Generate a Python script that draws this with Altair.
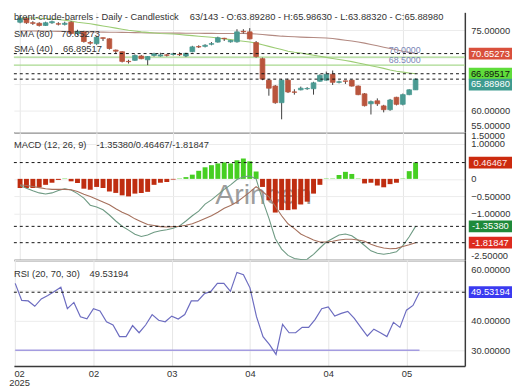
import altair as alt
import pandas as pd

FONT = "Liberation Sans"
W = 459
H_PRICE, H_MACD, H_RSI = 122, 130, 108
FS = 9.5

idx = list(range(63))
o = [76.5, 77.2, 76.4, 76.3, 75.9, 76.4, 76.2, 76.1, 76.5, 74.4,
     74.7, 72.7, 72.5, 73.6, 73.4, 71.3, 71.0, 69.2, 69.4, 70.2,
     69.5, 70.3, 70.2, 70.4, 70.5, 70.5, 70.2, 71.0, 71.95, 72.0,
     72.4, 72.8, 73.5, 72.85, 72.85, 74.8, 74.7, 72.7, 69.7, 65.7,
     64.6, 61.5, 65.7, 63.5, 63.9, 64.1, 64.1, 65.5, 65.7, 66.8,
     65.3, 65.55, 65.7, 64.6, 63.15, 61.3, 61.85, 60.9, 60.2, 62.5,
     61.2, 63.0, 63.8928]
h = [77.6, 77.5, 76.7, 76.5, 76.6, 76.8, 76.5, 76.6, 76.7, 75.1,
     74.9, 73.0, 73.9, 73.65, 73.5, 71.4, 71.1, 69.5, 70.5, 70.4,
     70.2, 70.8, 70.8, 70.6, 70.8, 70.9, 70.8, 72.1, 72.2, 72.4,
     72.8, 73.8, 73.6, 73.2, 75.2, 75.2, 75.4, 73.0, 69.9, 65.9,
     64.8, 65.9, 66.0, 64.0, 64.5, 64.4, 65.4, 66.8, 67.3, 67.5,
     65.6, 65.6, 65.8, 64.7, 63.3, 61.9, 62.3, 61.1, 62.2, 62.6,
     63.2, 64.0, 65.9863]
l = [76.3, 76.2, 76.0, 75.7, 75.8, 76.2, 75.9, 75.9, 74.2, 74.1,
     72.7, 72.3, 72.3, 73.0, 71.4, 70.7, 69.0, 68.8, 69.3, 69.6,
     68.5, 70.1, 70.1, 70.1, 70.3, 70.2, 70.0, 70.9, 71.7, 71.8,
     72.2, 72.7, 73.0, 72.7, 72.7, 74.4, 73.3, 69.9, 65.7, 62.8,
     61.3, 58.4, 63.3, 63.0, 63.8, 63.9, 63.0, 65.4, 65.6, 64.8,
     65.1, 65.0, 64.5, 62.9, 60.8, 59.3, 60.9, 59.7, 60.0, 61.0,
     61.0, 62.9, 63.8832]
c = [77.2, 76.4, 76.3, 75.9, 76.4, 76.6, 76.15, 76.3, 74.4, 74.8,
     72.9, 72.6, 73.7, 73.5, 71.6, 71.1, 69.2, 69.15, 70.3, 69.7,
     70.1, 70.6, 70.4, 70.35, 70.6, 70.45, 70.7, 71.9, 71.9, 72.2,
     72.5, 73.6, 73.45, 73.1, 74.7, 74.7, 73.4, 70.1, 65.9, 64.2,
     61.5, 65.7, 63.5, 63.45, 64.2, 64.15, 65.2, 66.6, 66.8, 65.3,
     65.4, 65.5, 64.6, 63.0, 60.95, 61.7, 61.3, 60.2, 62.0, 61.2,
     63.0, 63.9, 65.8898]
sma40 = [77.3, 77.3, 77.3, 77.25, 77.2, 77.1, 77.0, 76.85, 76.7, 76.5,
         76.35, 76.2, 76.0, 75.8, 75.6, 75.4, 75.2, 75.0, 74.85, 74.7,
         74.6, 74.5, 74.4, 74.35, 74.3, 74.2, 74.1, 74.0, 73.9, 73.8,
         73.7, 73.55, 73.4, 73.25, 73.1, 72.95, 72.8, 72.6, 72.3, 72.0,
         71.7, 71.4, 71.1, 70.9, 70.75, 70.55, 70.35, 70.15, 69.95, 69.75,
         69.55, 69.35, 69.15, 68.9, 68.65, 68.4, 68.15, 67.9, 67.6, 67.35,
         67.2, 67.05, 66.89517]
sma80 = [74.85, 74.85, 74.85, 74.84, 74.83, 74.82, 74.8, 74.78, 74.76, 74.74,
         74.72, 74.7, 74.68, 74.66, 74.64, 74.62, 74.6, 74.58, 74.56, 74.54,
         74.52, 74.5, 74.49, 74.48, 74.47, 74.46, 74.45, 74.44, 74.43, 74.42,
         74.42, 74.41, 74.41, 74.4, 74.4, 74.4, 74.38, 74.3, 74.2, 74.1,
         74.0, 73.9, 73.85, 73.78, 73.72, 73.68, 73.64, 73.6, 73.55, 73.45,
         73.3, 73.15, 73.0, 72.8, 72.6, 72.35, 72.1, 71.85, 71.6, 71.35,
         71.1, 70.88, 70.65273]
macd = [-0.19, -0.27, -0.34, -0.40, -0.43, -0.40, -0.33, -0.28, -0.32, -0.42,
        -0.55, -0.75, -0.80, -0.88, -1.03, -1.20, -1.35, -1.46, -1.58, -1.64,
        -1.60, -1.52, -1.48, -1.45, -1.41, -1.34, -1.20, -1.05, -0.92, -0.72,
        -0.60, -0.45, -0.30, -0.17, -0.02, 0.06, 0.08, 0.00, -0.60, -1.12,
        -1.70, -2.00, -2.18, -2.27, -2.30, -2.29, -2.15, -1.97, -1.80, -1.70,
        -1.60, -1.57, -1.62, -1.75, -1.90, -2.05, -2.12, -2.15, -2.12, -2.08,
        -1.90, -1.65, -1.35380]
signal = [-0.17, -0.19, -0.22, -0.25, -0.28, -0.30, -0.30, -0.30, -0.31, -0.36,
          -0.44, -0.50, -0.58, -0.66, -0.74, -0.85, -0.95, -1.03, -1.14, -1.22,
          -1.30, -1.33, -1.36, -1.37, -1.36, -1.35, -1.32, -1.28, -1.21, -1.13,
          -1.05, -0.95, -0.84, -0.76, -0.66, -0.52, -0.38, -0.22, -0.36, -0.51,
          -0.78, -1.05, -1.28, -1.42, -1.57, -1.66, -1.74, -1.80, -1.80, -1.78,
          -1.74, -1.72, -1.72, -1.74, -1.78, -1.86, -1.93, -1.97, -1.99, -1.98,
          -1.93, -1.88, -1.81847]
hist = [-0.26, -0.26, -0.26, -0.24, -0.17, -0.11, -0.03, 0.01, -0.07, -0.12,
        -0.28, -0.31, -0.23, -0.26, -0.36, -0.40, -0.47, -0.50, -0.42, -0.40,
        -0.37, -0.17, -0.11, -0.09, -0.02, 0.01, 0.05, 0.12, 0.23, 0.33,
        0.39, 0.44, 0.47, 0.44, 0.53, 0.58, 0.50, 0.21, -0.23, -0.61,
        -0.96, -0.89, -0.89, -0.87, -0.73, -0.65, -0.42, -0.17, 0.01, 0.01,
        0.11, 0.20, 0.14, 0.01, -0.13, -0.11, -0.19, -0.24, -0.15, -0.11,
        0.01, 0.22, 0.46467]
rsi = [52.5, 46.8, 46.6, 44.8, 47.3, 48.4, 49.8, 51.2, 44.0, 46.1,
       41.3, 40.6, 44.0, 43.2, 39.6, 38.5, 34.6, 34.6, 38.3, 35.9,
       38.5, 42.0, 40.1, 39.6, 41.5, 40.5, 42.0, 46.6, 46.6, 49.0,
       49.8, 52.5, 52.5, 49.8, 56.2, 55.4, 51.0, 41.3, 34.6, 31.9,
       28.6, 38.7, 35.9, 35.9, 37.7, 37.7, 40.4, 44.0, 44.6, 41.5,
       42.4, 43.1, 40.7, 37.7, 34.8, 37.1, 35.9, 34.6, 39.4, 37.7,
       43.5, 45.1, 49.53194]

levels = [70.0, 68.5]
level_labels = ["70.0000", "68.5000"]
rsi_levels = [30]

tick_idx = [0, 12, 24, 36, 48, 60]
tick_lab = ["02", "02", "03", "04", "04", "05"]
year_lab = "2025"

title_left = "brent-crude-barrels - Daily - Candlestick"
title_right = "63/143 - O:63.89280 - H:65.98630 - L:63.88320 - C:65.88980"

UP, DOWN, WICK = "#4a9a92", "#b9553d", "#3c3c3c"
SMA80_C, SMA40_C, LEVEL_C = "#b38a82", "#9ccc74", "#a9d98f"
MACD_C, SIG_C, HPOS, HNEG = "#6e9a83", "#a5705c", "#46cf22", "#bf2d10"
RSI_C, RSI30_C = "#6c6cc0", "#a49ce0"
AXC = "#3a3a3a"

df = pd.DataFrame({"i": idx, "o": o, "h": h, "l": l, "c": c,
                   "sma40": sma40, "sma80": sma80, "macd": macd,
                   "sig": signal, "hist": hist, "rsi": rsi})

x_scale = alt.Scale(domain=[-0.2, 68.95], nice=False, zero=False)

x_axis_hidden = alt.Axis(values=tick_idx, labels=False, ticks=False, domain=True,
                         domainColor=AXC, domainWidth=1.5, grid=True,
                         gridColor="#e6e6e6", title=None)

parts = []
for t, lab in zip(tick_idx, tick_lab):
    s = f"['{lab}','{year_lab}']" if t == tick_idx[0] else f"'{lab}'"
    parts.append(f"datum.value == {t} ? {s}")
x_label_expr = " : ".join(parts) + " : ''"

x_axis_bottom = alt.Axis(values=tick_idx, labelExpr=x_label_expr, ticks=False,
                         domain=True, domainColor=AXC, domainWidth=1.5,
                         grid=True, gridColor="#e6e6e6", title=None,
                         labelFlush=False, labelOverlap=False, labelPadding=3,
                         labelFontSize=9.5, labelLineHeight=9, labelBaseline="top",
                         labelOffset={"condition": {"test": f"datum.value == {tick_idx[0]}", "value": 4}, "value": 0})


def yaxis(values, expr, offset_cond):
    return alt.Axis(orient="right", values=values, labelExpr=expr, ticks=False,
                    labelPadding=6, domain=True, domainColor=AXC, domainWidth=1.5,
                    grid=True, gridColor="#ececec", title=None, labelOverlap=False,
                    labelOffset={"condition": offset_cond, "value": 0})


def label(txt, px, py, size=FS, color="#333", baseline="middle", **kw):
    return alt.Chart(pd.DataFrame({"t": [txt]})).mark_text(
        align="left", baseline=baseline, fontSize=size, font=FONT, color=color, **kw
    ).encode(x=alt.value(px), y=alt.value(py), text="t:N")


def panel_enc(xax, ysc, yax):
    def X(field):
        return alt.X(field, scale=x_scale, axis=xax)

    def Y(field):
        return alt.Y(field, scale=ysc, axis=yax)
    return X, Y


def boxes(vals, bgs, fgs, offs, Y):
    out = []
    for v, bg, fg, off in zip(vals, bgs, fgs, offs):
        bdf = pd.DataFrame({"v": [v], "lab": [f"{v:.5f}"]})
        out.append(alt.Chart(bdf).mark_tick(orient="horizontal", thickness=12, size=44,
                                            opacity=1, color=bg, yOffset=off).encode(
            x=alt.value(485), y=Y("v:Q")))
        out.append(alt.Chart(bdf).mark_text(fontSize=FS, font=FONT, align="center",
                                            baseline="middle", color=fg, yOffset=off).encode(
            x=alt.value(485), y=Y("v:Q"), text="lab:N"))
    return out


def dashed(vals, Y):
    return alt.Chart(pd.DataFrame({"v": vals})).mark_rule(
        color="#111", strokeWidth=1, strokeDash=[3, 3]).encode(y=Y("v:Q"))


base = alt.Chart(df)

# ---------------- price panel ----------------
ysc_p = alt.Scale(domain=[56.0, 78.34], nice=False, zero=False)
yax_p = yaxis([56.0, 60, 65, 70, 75],
              "datum.value < 57 ? '55.00000' : (datum.value == 65 || datum.value == 70) ? '' : format(datum.value, '.5f')",
              {"test": "datum.value < 57", "value": -6.5})
Xp, Yp = panel_enc(x_axis_hidden, ysc_p, yax_p)

lvl_rules = alt.Chart(pd.DataFrame({"lvl": levels})).mark_rule(
    color=LEVEL_C, strokeWidth=1.3).encode(y=Yp("lvl:Q"))
lvl_texts = []
for lv, lb, ddy in zip(levels, level_labels, [-2, 0]):
    ldf = pd.DataFrame({"lvl": [lv], "lab": [lb], "xl": [idx[-1] + 0.8]})
    lvl_texts.append(alt.Chart(ldf).mark_text(align="right", baseline="bottom", dy=ddy, fontSize=9,
                                              font=FONT, color="#7a86b6").encode(
        x=Xp("xl:Q"), y=Yp("lvl:Q"), text="lab:N"))
sma80_line = base.mark_line(color=SMA80_C, strokeWidth=1.1).encode(x=Xp("i:Q"), y=Yp("sma80:Q"))
sma40_line = base.mark_line(color=SMA40_C, strokeWidth=1.1).encode(x=Xp("i:Q"), y=Yp("sma40:Q"))
wicks = base.mark_rule(color=WICK, strokeWidth=1).encode(x=Xp("i:Q"), y=Yp("l:Q"), y2="h:Q")
candle_color = alt.condition("datum.c >= datum.o", alt.value(UP), alt.value(DOWN))
bodies = base.mark_bar(size=4.8, strokeWidth=0.8).encode(
    x=Xp("i:Q"), y=Yp("o:Q"), y2="c:Q", color=candle_color, stroke=candle_color)

price = alt.layer(
    lvl_rules, sma80_line, sma40_line, wicks, bodies,
    dashed([sma80[-1], sma40[-1], c[-1]], Yp), *lvl_texts,
    label(title_left, 0, 4.5), label(title_right, 179, 4.5),
    label("SMA (80)", 0, 22), label(f"{sma80[-1]:.5f}", 48, 22),
    label("SMA (40)", 0, 37), label(f"{sma40[-1]:.5f}", 50, 37),
    *boxes([sma80[-1], sma40[-1], c[-1]], ["#d9503c", "#5fdc3a", "#3e9b8f"],
           ["#ffffff", "#111111", "#ffffff"], [0, 0, 5.5], Yp),
).properties(width=W, height=H_PRICE)

# ---------------- MACD panel ----------------
ysc_m = alt.Scale(domain=[-2.31, 1.33], nice=False, zero=False)
yax_m = yaxis([1.33, 1.0, 0, -0.5, -1.0, -2.31],
              "datum.value > 1.2 ? '1.50000' : datum.value < -2.2 ? '-2.50000' : datum.value == 0 ? '0' : format(datum.value, '.5f')",
              [{"test": "datum.value > 1.2", "value": 3}, {"test": "datum.value < -2.2", "value": -4}])
Xm, Ym = panel_enc(x_axis_hidden, ysc_m, yax_m)

hist_bars = base.mark_bar(size=5).encode(
    x=Xm("i:Q"), y=Ym("hist:Q"), y2=alt.datum(0),
    color=alt.condition("datum.hist >= 0", alt.value(HPOS), alt.value(HNEG)))
macd_line = base.mark_line(color=MACD_C, strokeWidth=1.1).encode(x=Xm("i:Q"), y=Ym("macd:Q"))
sig_line = base.mark_line(color=SIG_C, strokeWidth=1.1).encode(x=Xm("i:Q"), y=Ym("sig:Q"))
macd_panel = alt.layer(
    label("Arincen", 205, 73, size=29, color="#8c8c8c", baseline="alphabetic", opacity=0.85),
    hist_bars, macd_line, sig_line,
    dashed([hist[-1], macd[-1], signal[-1]], Ym),
    label("MACD (12, 26, 9)", 0, 13),
    label(f"{macd[-1]:.5f}/{hist[-1]:.5f}/{signal[-1]:.5f}", 84, 13),
    *boxes([hist[-1], macd[-1], signal[-1]], ["#cc2a0e", "#1f8a3a", "#dd2b1f"],
           ["#ffe8e8", "#ffffff", "#ffffff"], [0, 0, 0], Ym),
).properties(width=W, height=H_MACD)

# ---------------- RSI panel ----------------
ysc_r = alt.Scale(domain=[24.7, 60.4], nice=False, zero=False)
yax_r = yaxis([60.4, 50, 40, 30],
              "datum.value > 60 ? '60.00000' : datum.value == 50 ? '' : format(datum.value, '.5f')",
              {"test": "datum.value > 60", "value": 10})
Xr, Yr = panel_enc(x_axis_bottom, ysc_r, yax_r)

r30_df = pd.DataFrame({"x0": [idx[0]] * len(rsi_levels), "x1": [idx[-1]] * len(rsi_levels), "v": rsi_levels})
r30 = alt.Chart(r30_df).mark_rule(color=RSI30_C, strokeWidth=1.6).encode(
    x=Xr("x0:Q"), x2="x1:Q", y=Yr("v:Q"))
rsi_line = base.mark_line(color=RSI_C, strokeWidth=1.2).encode(x=Xr("i:Q"), y=Yr("rsi:Q"))
rsi_panel = alt.layer(
    r30, rsi_line, dashed([rsi[-1]], Yr),
    label("RSI (20, 70, 30)", 0, 14), label(f"{rsi[-1]:.5f}", 77, 14),
    *boxes([rsi[-1]], ["#3a3af0"], ["#ffffff"], [0], Yr),
).properties(width=W, height=H_RSI)

chart = alt.vconcat(price, macd_panel, rsi_panel, spacing=0, bounds="flush").properties(
    padding=0
).configure_view(stroke=None).configure_axis(
    labelFont=FONT, labelFontSize=FS, labelColor="#333"
)

chart.save("out.html", embed_options={"renderer": "svg", "actions": False})
